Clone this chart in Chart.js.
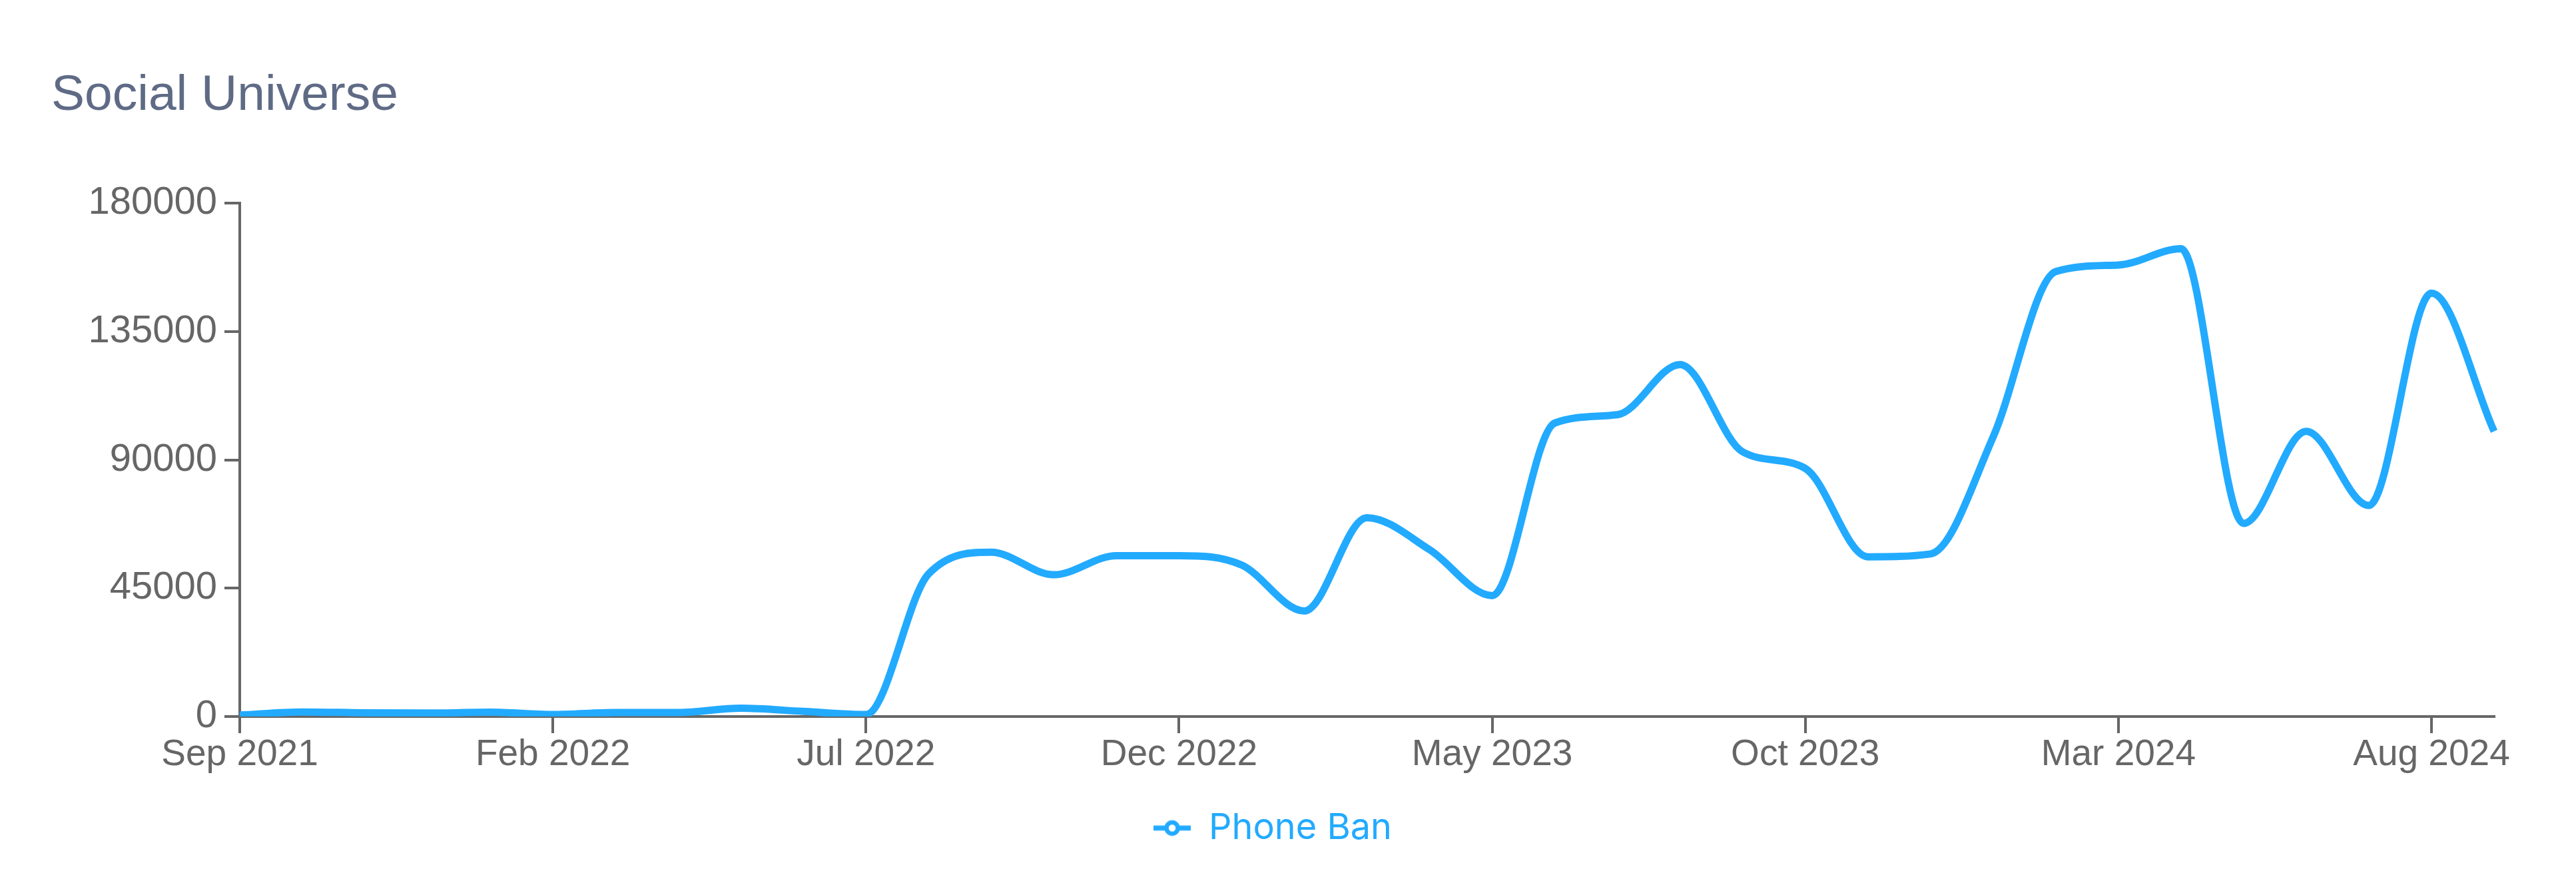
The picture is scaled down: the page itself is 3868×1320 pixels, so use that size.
<!DOCTYPE html>
<html>
<head>
<meta charset="utf-8">
<script src="https://cdn.jsdelivr.net/npm/chart.js@4.4.1/dist/chart.umd.min.js"></script>
<style>
  html, body { margin: 0; padding: 0; background: #ffffff; }
  #wrap { width: 3868px; height: 1320px; }
</style>
</head>
<body>
<div id="wrap"><canvas id="c" width="3868" height="1320"></canvas></div>
<script>
const chartTitle = "Social Universe";
const seriesName = "Phone Ban";
const months = [
  "Sep 2021","Oct 2021","Nov 2021","Dec 2021","Jan 2022","Feb 2022","Mar 2022","Apr 2022",
  "May 2022","Jun 2022","Jul 2022","Aug 2022","Sep 2022","Oct 2022","Nov 2022","Dec 2022",
  "Jan 2023","Feb 2023","Mar 2023","Apr 2023","May 2023","Jun 2023","Jul 2023","Aug 2023",
  "Sep 2023","Oct 2023","Nov 2023","Dec 2023","Jan 2024","Feb 2024","Mar 2024","Apr 2024",
  "May 2024","Jun 2024","Jul 2024","Aug 2024","Sep 2024"
];
const phoneBan = [
  500, 1600, 1300, 1200, 1500, 700, 1400, 1400,
  2900, 1800, 700, 50000, 57600, 49700, 56400, 56400,
  53100, 37000, 69700, 58500, 42400, 102900, 105800, 123400,
  92800, 87000, 56000, 57000, 98000, 156000, 158300, 164000,
  67700, 100000, 74000, 148400, 100000
];
const yTicks = [0, 45000, 90000, 135000, 180000];
const tickEvery = 5;

const lineColor = '#22aaff';
const axisColor = '#666666';

// legend icon: short line with hollow circle
const icon = document.createElement('canvas');
icon.width = 56; icon.height = 26;
(function () {
  const g = icon.getContext('2d');
  g.strokeStyle = lineColor;
  g.lineWidth = 7.5;
  g.beginPath(); g.moveTo(0, 13); g.lineTo(56, 13); g.stroke();
  g.beginPath(); g.arc(28, 13, 8.5, 0, Math.PI * 2);
  g.fillStyle = '#ffffff'; g.fill();
  g.lineWidth = 6.5; g.stroke();
})();

new Chart(document.getElementById('c'), {
  type: 'line',
  data: {
    labels: months,
    datasets: [{
      label: seriesName,
      data: phoneBan,
      borderColor: lineColor,
      backgroundColor: lineColor,
      borderWidth: 11,
      pointRadius: 0,
      pointHoverRadius: 0,
      cubicInterpolationMode: 'monotone',
      fill: false
    }]
  },
  options: {
    responsive: false,
    devicePixelRatio: 1,
    animation: false,
    layout: { padding: { left: 77, right: 123, top: 0, bottom: 39.5 } },
    plugins: {
      tooltip: { enabled: false },
      title: {
        display: true,
        text: chartTitle,
        align: 'start',
        color: '#5f6b85',
        font: { family: "'Liberation Sans', Arial, sans-serif", size: 75, weight: 'normal', lineHeight: 1.2 },
        padding: { top: 99, bottom: 116 }
      },
      legend: {
        display: true,
        position: 'bottom',
        labels: {
          usePointStyle: true,
          pointStyle: icon,
          pointStyleWidth: 56,
          color: lineColor,
          padding: 10,
          font: { family: "Inter, 'Noto Sans', sans-serif", size: 54 }
        }
      }
    },
    scales: {
      x: {
        type: 'category',
        offset: false,
        afterBuildTicks: (scale) => {
          scale.ticks = scale.ticks.filter((t, i) => i % tickEvery === 0);
        },
        afterFit: (scale) => { scale.height = 130.5; },
        grid: { display: true, drawOnChartArea: false, drawTicks: true, tickLength: 25, color: axisColor, lineWidth: 4 },
        border: { display: true, color: axisColor, width: 4 },
        ticks: {
          autoSkip: false,
          maxRotation: 0,
          minRotation: 0,
          padding: 0,
          color: axisColor,
          font: { family: "'Liberation Sans', Arial, sans-serif", size: 55 },
          callback: function (value) { return this.getLabelForValue(value); }
        }
      },
      y: {
        min: yTicks[0],
        max: yTicks[yTicks.length - 1],
        afterBuildTicks: (scale) => { scale.ticks = yTicks.map(v => ({ value: v })); },
        afterFit: (scale) => { scale.width = 283; },
        grid: { display: true, drawOnChartArea: false, drawTicks: true, tickLength: 23, color: axisColor, lineWidth: 4 },
        border: { display: true, color: axisColor, width: 4 },
        ticks: {
          padding: 11,
          color: axisColor,
          font: { family: "'Liberation Sans', Arial, sans-serif", size: 58 },
          callback: (v) => String(v)
        }
      }
    }
  }
});
</script>
</body>
</html>
